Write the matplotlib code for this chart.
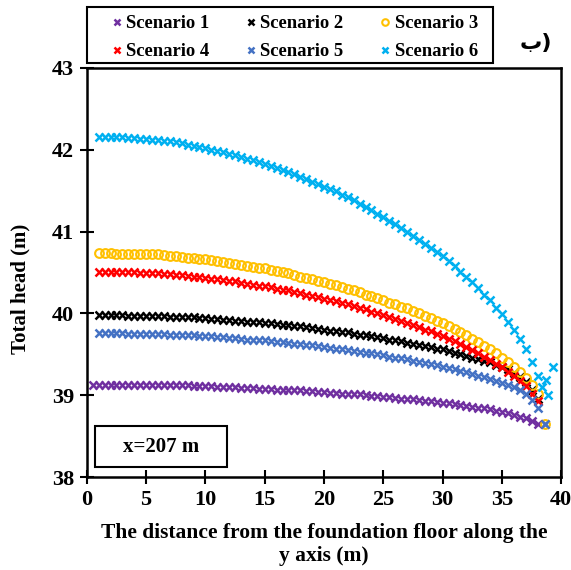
import numpy as np
import matplotlib
matplotlib.use("Agg")
import matplotlib.pyplot as plt
from matplotlib.patches import Rectangle

plt.rcParams['font.family'] = ['Liberation Serif', 'DejaVu Serif']
plt.rcParams['font.weight'] = 'bold'

# distance along y axis (m), 0.5 m spacing
dist = np.arange(1.0, 38.01, 0.5)

s1 = [39.13, 39.13, 39.13, 39.13, 39.13, 39.13, 39.13, 39.13, 39.13, 39.12,
      39.12, 39.12, 39.12, 39.12, 39.12, 39.12, 39.11, 39.11, 39.11, 39.11,
      39.10, 39.10, 39.10, 39.10, 39.09, 39.09, 39.09, 39.08, 39.08, 39.08,
      39.07, 39.07, 39.07, 39.06, 39.06, 39.05, 39.05, 39.04, 39.04, 39.03,
      39.03, 39.02, 39.02, 39.01, 39.01, 39.00, 38.99, 38.99, 38.98, 38.98,
      38.97, 38.96, 38.96, 38.95, 38.94, 38.93, 38.93, 38.92, 38.91, 38.90,
      38.89, 38.88, 38.87, 38.86, 38.85, 38.84, 38.83, 38.81, 38.80, 38.78,
      38.76, 38.74, 38.72, 38.68, 38.65]
s2 = [39.98, 39.98, 39.98, 39.98, 39.98, 39.97, 39.97, 39.97, 39.97, 39.97,
      39.97, 39.97, 39.96, 39.96, 39.96, 39.95, 39.95, 39.94, 39.94, 39.93,
      39.93, 39.92, 39.92, 39.91, 39.91, 39.90, 39.90, 39.89, 39.88, 39.88,
      39.87, 39.86, 39.86, 39.85, 39.84, 39.83, 39.82, 39.81, 39.80, 39.79,
      39.79, 39.77, 39.77, 39.75, 39.74, 39.73, 39.72, 39.71, 39.70, 39.68,
      39.67, 39.66, 39.64, 39.63, 39.61, 39.60, 39.59, 39.57, 39.56, 39.54,
      39.52, 39.50, 39.48, 39.46, 39.44, 39.42, 39.40, 39.37, 39.35, 39.32,
      39.27, 39.22, 39.16, 39.07, 38.96]
s3 = [40.74, 40.74, 40.74, 40.73, 40.73, 40.73, 40.73, 40.72, 40.72, 40.72,
      40.72, 40.71, 40.70, 40.70, 40.69, 40.68, 40.68, 40.66, 40.66, 40.65,
      40.64, 40.63, 40.62, 40.60, 40.59, 40.58, 40.57, 40.56, 40.55, 40.53,
      40.52, 40.50, 40.49, 40.47, 40.45, 40.43, 40.42, 40.40, 40.38, 40.36,
      40.35, 40.32, 40.30, 40.28, 40.26, 40.23, 40.21, 40.19, 40.16, 40.13,
      40.11, 40.08, 40.06, 40.03, 40.00, 39.97, 39.94, 39.91, 39.88, 39.84,
      39.81, 39.77, 39.73, 39.69, 39.65, 39.60, 39.56, 39.51, 39.46, 39.41,
      39.35, 39.28, 39.21, 39.12, 39.01]
s4 = [40.51, 40.51, 40.51, 40.50, 40.50, 40.50, 40.50, 40.49, 40.49, 40.49,
      40.49, 40.48, 40.48, 40.47, 40.47, 40.46, 40.45, 40.44, 40.43, 40.42,
      40.42, 40.41, 40.40, 40.39, 40.37, 40.36, 40.35, 40.34, 40.33, 40.32,
      40.30, 40.29, 40.28, 40.26, 40.25, 40.23, 40.21, 40.20, 40.18, 40.16,
      40.15, 40.13, 40.11, 40.09, 40.07, 40.05, 40.02, 40.00, 39.98, 39.95,
      39.93, 39.91, 39.88, 39.86, 39.83, 39.80, 39.78, 39.75, 39.72, 39.69,
      39.66, 39.62, 39.59, 39.55, 39.51, 39.47, 39.43, 39.38, 39.34, 39.29,
      39.24, 39.18, 39.11, 39.02, 38.93]
s5 = [39.76, 39.76, 39.76, 39.76, 39.76, 39.75, 39.75, 39.75, 39.75, 39.75,
      39.75, 39.75, 39.74, 39.74, 39.74, 39.73, 39.73, 39.72, 39.72, 39.72,
      39.71, 39.71, 39.70, 39.70, 39.69, 39.68, 39.68, 39.67, 39.67, 39.66,
      39.65, 39.65, 39.64, 39.63, 39.62, 39.61, 39.61, 39.60, 39.59, 39.58,
      39.57, 39.56, 39.55, 39.54, 39.53, 39.52, 39.51, 39.50, 39.49, 39.47,
      39.46, 39.45, 39.44, 39.42, 39.41, 39.39, 39.38, 39.37, 39.35, 39.33,
      39.32, 39.30, 39.28, 39.26, 39.24, 39.22, 39.20, 39.17, 39.15, 39.13,
      39.10, 39.06, 39.01, 38.94, 38.85]
s6 = [42.16, 42.16, 42.16, 42.15, 42.15, 42.14, 42.14, 42.13, 42.13, 42.12,
      42.12, 42.11, 42.10, 42.09, 42.08, 42.06, 42.05, 42.03, 42.02, 42.00,
      41.99, 41.97, 41.95, 41.93, 41.91, 41.89, 41.87, 41.85, 41.83, 41.80,
      41.78, 41.75, 41.73, 41.70, 41.67, 41.64, 41.61, 41.58, 41.55, 41.52,
      41.49, 41.45, 41.42, 41.38, 41.34, 41.30, 41.26, 41.22, 41.18, 41.13,
      41.09, 41.04, 41.00, 40.95, 40.90, 40.85, 40.80, 40.75, 40.70, 40.64,
      40.58, 40.51, 40.45, 40.38, 40.31, 40.23, 40.16, 40.07, 39.99, 39.90,
      39.80, 39.69, 39.57, 39.41, 39.23]

# extra points near the downstream end
s1_extra_x, s1_extra_y = [0.5, 38.6], [39.13, 38.65]
s3_extra_x, s3_extra_y = [38.6], [38.65]
s5_extra_x, s5_extra_y = [38.6], [38.65]
s6_extra_x = [38.4, 38.7, 38.9, 39.3]
s6_extra_y = [39.10, 39.19, 39.00, 39.34]

names = ['Scenario 1', 'Scenario 2', 'Scenario 3',
         'Scenario 4', 'Scenario 5', 'Scenario 6']
colors = ['#7030A0', '#000000', '#FFC000', '#FF0000', '#4472C4', '#00B0F0']

fig = plt.figure(figsize=(5.71, 5.70), dpi=100)
ax = fig.add_axes([0.152, 0.163, 0.831, 0.718])

series = [
    (np.concatenate([dist, s1_extra_x]), np.concatenate([s1, s1_extra_y]), 'x'),
    (dist, np.array(s2), 'x'),
    (np.concatenate([dist, s3_extra_x]), np.concatenate([s3, s3_extra_y]), 'o'),
    (dist, np.array(s4), 'x'),
    (np.concatenate([dist, s5_extra_x]), np.concatenate([s5, s5_extra_y]), 'x'),
    (np.concatenate([dist, s6_extra_x]), np.concatenate([s6, s6_extra_y]), 'x'),
]
handles = []
for (xs, ys, m), c, n in zip(series, colors, names):
    if m == 'o':
        h, = ax.plot(xs, ys, linestyle='none', marker='o', markersize=6.3,
                     markerfacecolor='none', markeredgecolor=c,
                     markeredgewidth=1.5, label=n)
    else:
        h, = ax.plot(xs, ys, linestyle='none', marker='x', markersize=6,
                     color=c, markeredgewidth=1.8, label=n)
    handles.append(h)

ax.set_xlim(0, 40)
ax.set_ylim(38, 43)
ax.set_xticks(np.arange(0, 41, 5))
ax.set_yticks(np.arange(38, 44, 1))
ax.tick_params(direction='inout', length=10, width=1.5, labelsize=16,
               top=False, right=False, pad=4)
for lab in ax.get_xticklabels() + ax.get_yticklabels():
    lab.set_fontweight('bold')
for sp in ax.spines.values():
    sp.set_linewidth(1.8)

ax.set_xlabel('The distance from the foundation floor along the\ny axis (m)',
              fontsize=15.5, fontweight='bold', labelpad=10, linespacing=1.2)
ax.set_ylabel('Total head (m)', fontsize=15, fontweight='bold')
ax.yaxis.set_label_coords(-0.118, 0.46)

ax.add_patch(Rectangle((0.017, 0.024), 0.278, 0.101, transform=ax.transAxes,
                       facecolor='white', edgecolor='black', linewidth=1.5,
                       zorder=5))
ax.text(0.156, 0.0746, 'x=207 m', transform=ax.transAxes, ha='center',
        va='center', fontsize=15, fontweight='bold', zorder=6)

# legend: row-major order (1 2 3 / 4 5 6)
order = [0, 3, 1, 4, 2, 5]
leg = fig.legend([handles[i] for i in order], [names[i] for i in order],
                 ncol=3, loc='upper left',
                 bbox_to_anchor=(111 / 571, 1 - 15 / 570),
                 borderaxespad=0, borderpad=0, frameon=False,
                 prop={'weight': 'bold', 'size': 13.4}, handlelength=0.6,
                 handletextpad=0.2, markerscale=0.75, columnspacing=1.95,
                 labelspacing=0.6)
fig.add_artist(Rectangle((87 / 571, 1 - 63 / 570), 406 / 571, 56 / 570,
                         transform=fig.transFigure, facecolor='none',
                         edgecolor='black', linewidth=1.5))

fig.text(0.939, 0.925, 'ب)', fontsize=16, family=['DejaVu Sans'],
         ha='center', va='center')

fig.savefig('out.png', dpi=100)
